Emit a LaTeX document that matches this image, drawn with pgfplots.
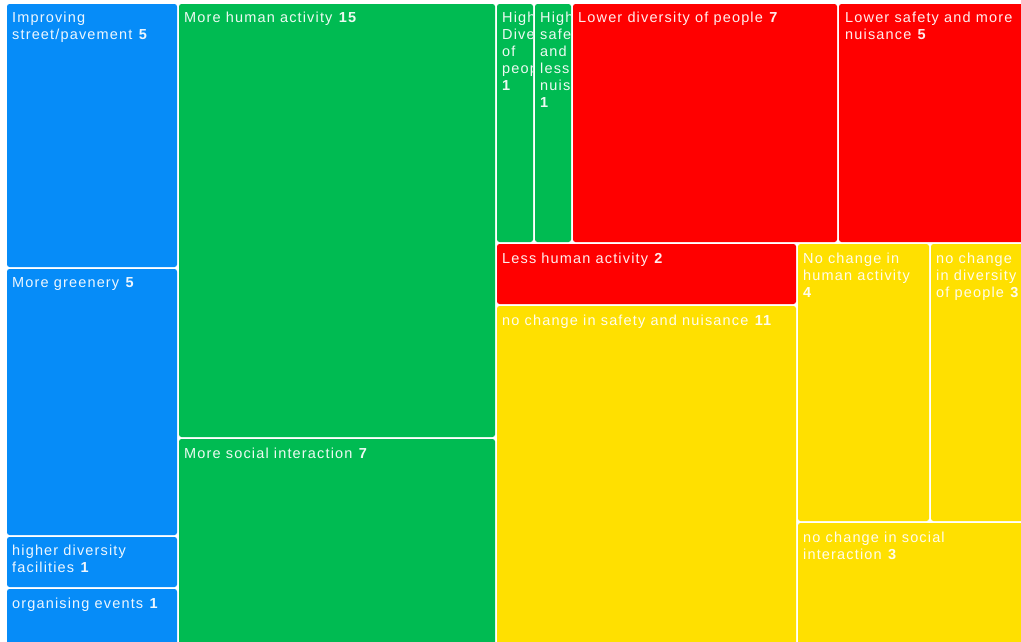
\documentclass[border=0pt]{standalone}
\usepackage{pgfplots}
\pgfplotsset{compat=1.18}
\usepackage{fontspec}
\setmainfont[LetterSpace=8]{Liberation Sans}

\definecolor{tblue}{HTML}{068CF8}
\definecolor{tgreen}{HTML}{00BB52}
\definecolor{tred}{HTML}{FF0000}
\definecolor{tyellow}{HTML}{FFE000}

\tikzset{lbl/.style={anchor=north west, inner sep=0pt, align=left,
    text=white, text opacity=0.93, font=\fontsize{14.5}{17}\selectfont}}

% one tile: x0, y0, x1, y1 (pixel units), colour
\newcommand{\tile}[5]{%
  \addplot[draw=none, fill=#5, rounded corners=2.5pt]
    coordinates {(#1,#2) (#3,#2) (#3,#4) (#1,#4)} -- cycle;}

\begin{document}
\begin{tikzpicture}
\begin{axis}[
  scale only axis,
  width=1021pt, height=641pt,
  xmin=0, xmax=1021, ymin=0, ymax=641,
  y dir=reverse,
  hide axis,
  clip=true,
]
  \addplot[draw=none, fill=white] coordinates {(0,0) (1021,0) (1021,641) (0,641)} -- cycle;

  % Improvements (blue)
  \tile{7}{4}{177}{267}{tblue}
  \tile{7}{269}{177}{535}{tblue}
  \tile{7}{537}{177}{587}{tblue}
  \tile{7}{589}{177}{645}{tblue}
  % Positive (green)
  \tile{179}{4}{495}{437}{tgreen}
  \tile{179}{439}{495}{645}{tgreen}
  \tile{497}{4}{533}{242}{tgreen}
  \tile{535}{4}{571}{242}{tgreen}
  % Negative (red)
  \tile{573}{4}{837}{242}{tred}
  \tile{839}{4}{1025}{242}{tred}
  \tile{497}{244}{796}{304}{tred}
  % No change (yellow)
  \tile{497}{306}{796}{645}{tyellow}
  \tile{798}{244}{929}{521}{tyellow}
  \tile{931}{244}{1025}{521}{tyellow}
  \tile{798}{523}{1025}{645}{tyellow}

  \node[lbl] at (axis cs:12,12) {Improving\\street/pavement \textbf{5}};
  \node[lbl] at (axis cs:12,277) {More greenery \textbf{5}};
  \node[lbl] at (axis cs:12,545) {higher diversity\\facilities \textbf{1}};
  \node[lbl] at (axis cs:12,598) {organising events \textbf{1}};
  \node[lbl] at (axis cs:184,12) {More human activity \textbf{15}};
  \node[lbl] at (axis cs:184,448) {More social interaction \textbf{7}};
  \begin{scope}
    \clip (axis cs:497,4) rectangle (axis cs:532,242);
    \node[lbl] at (axis cs:502,12) {High\\Diversity\\of\\people\\\textbf{1}};
  \end{scope}
  \begin{scope}
    \clip (axis cs:535,4) rectangle (axis cs:570,242);
    \node[lbl] at (axis cs:540,12) {High\\safety\\and\\less\\nuisance\\\textbf{1}};
  \end{scope}
  \node[lbl] at (axis cs:578,12) {Lower diversity of people \textbf{7}};
  \node[lbl] at (axis cs:845,12) {Lower safety and more\\nuisance \textbf{5}};
  \node[lbl] at (axis cs:502,253) {Less human activity \textbf{2}};
  \node[lbl] at (axis cs:502,315) {no change in safety and nuisance \textbf{11}};
  \node[lbl] at (axis cs:803,253) {No change in\\human activity\\\textbf{4}};
  \node[lbl] at (axis cs:936,253) {no change\\in diversity\\of people \textbf{3}};
  \node[lbl] at (axis cs:803,532) {no change in social\\interaction \textbf{3}};
\end{axis}
\end{tikzpicture}
\end{document}
